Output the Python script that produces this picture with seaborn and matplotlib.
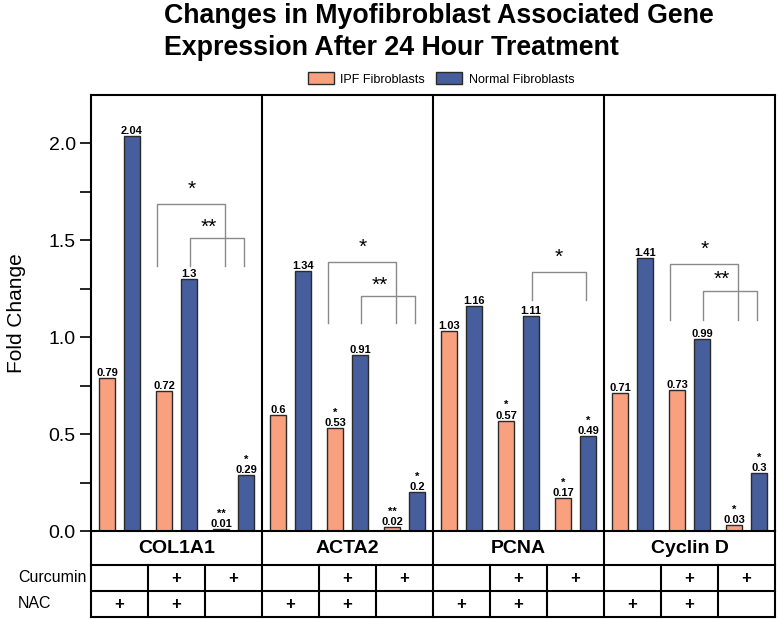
import numpy as np
import pandas as pd
import matplotlib
matplotlib.use("Agg")
import matplotlib.pyplot as plt
import seaborn as sns

# ---------------- data ----------------
genes = ["COL1A1", "ACTA2", "PCNA", "Cyclin D"]
cell_types = ["IPF Fibroblasts", "Normal Fibroblasts"]
ipf_values = [0.79, 0.72, 0.01, 0.60, 0.53, 0.02, 1.03, 0.57, 0.17, 0.71, 0.73, 0.03]
normal_values = [2.04, 1.30, 0.29, 1.34, 0.91, 0.20, 1.16, 1.11, 0.49, 1.41, 0.99, 0.30]
ipf_stars = ["", "", "**", "", "*", "**", "", "*", "*", "", "", "*"]
normal_stars = ["", "", "*", "", "", "*", "", "", "*", "", "", "*"]
curcumin = ["", "+", "+"]
nac = ["+", "+", ""]
y_major = [0.0, 0.5, 1.0, 1.5, 2.0]
y_minor = [0.25, 0.75, 1.25, 1.75]

# significance brackets (gene index, cell type index, label, top, bottom)
br_gene = [0, 0, 1, 1, 2, 3, 3]
br_cell = [0, 1, 0, 1, 1, 0, 1]
br_label = ["*", "**", "*", "**", "*", "*", "**"]
br_top = [1.687, 1.512, 1.390, 1.213, 1.338, 1.378, 1.240]
br_bottom = [1.369, 1.369, 1.072, 1.072, 1.192, 1.089, 1.089]

title = "Changes in Myofibroblast Associated Gene\nExpression After 24 Hour Treatment"
colors = ["#F9A07F", "#465E9B"]

# ---------------- figure ----------------
plt.rcParams["font.family"] = ["Liberation Sans", "DejaVu Sans"]
W, H = 778, 619
fig = plt.figure(figsize=(W / 100, H / 100), dpi=100)

ax_l, ax_r, ax_t, ax_b = 91, 775, 95, 531
ax = fig.add_axes([ax_l / W, 1 - ax_b / H, (ax_r - ax_l) / W, (ax_b - ax_t) / H])

pos_labels = [f"{g}-{t}" for g in genes for t in range(3)]
df = pd.DataFrame({
    "pos": pos_labels * 2,
    "cell": np.repeat(cell_types, len(pos_labels)),
    "value": ipf_values + normal_values,
})

sns.barplot(data=df, x="pos", y="value", hue="cell", order=pos_labels,
            hue_order=cell_types, palette=colors, saturation=1,
            width=0.88, gap=0.36, edgecolor="#2a2a2a", linewidth=1.0,
            errorbar=None, ax=ax)

ax.set_xlim(-0.5, len(pos_labels) - 0.5)
ax.set_ylim(0, 2.25)
ax.set_xticks([])
ax.set_xlabel("")
ax.set_yticks(y_major)
ax.set_yticklabels([f"{v:.1f}" for v in y_major])
ax.set_yticks(y_minor, minor=True)
ax.tick_params(axis="y", which="both", direction="out", length=8, width=1.2,
               labelsize=14, pad=3)
ax.set_ylabel("Fold Change", fontsize=15)
ax.yaxis.set_label_coords(-0.095, 0.5)
for s in ax.spines.values():
    s.set_linewidth(1.5)
    s.set_color("black")
for xb in [2.5, 5.5, 8.5]:
    ax.axvline(xb, color="black", lw=1.5)

# value labels (with significance stars stacked above)
star_lists = [ipf_stars, normal_stars]
val_lists = [ipf_values, normal_values]
for ci, cont in enumerate(ax.containers):
    labs = [(f"{st}\n" if st else "") + f"{v:g}"
            for st, v in zip(star_lists[ci], val_lists[ci])]
    ax.bar_label(cont, labels=labs, padding=0, fontsize=8, fontweight="bold",
                 linespacing=1.05)

# brackets
px = 1.0 / 57.0
for g, c, lab, top, bot in zip(br_gene, br_cell, br_label, br_top, br_bottom):
    cont = ax.containers[c]
    b1 = cont[3 * g + 1]
    b2 = cont[3 * g + 2]
    c1 = b1.get_x() + b1.get_width() / 2
    c2 = b2.get_x() + b2.get_width() / 2
    if c == 0:
        xl, xr = c1 - 7 * px, c2 + 4.5 * px
    else:
        xl, xr = c1 + 1 * px, c2 - 2 * px
    ax.plot([xl, xl, xr, xr], [bot, top, top, bot], color="#8a8a8a", lw=1.0)
    if lab == "**":
        xm, off = (xl + xr) / 2 - 8 * px, 4.0
    else:
        xm, off = (xl + xr) / 2, 6.5
    ax.annotate(lab, xy=(xm, top), xytext=(0, off), textcoords="offset points",
                ha="center", va="baseline", fontsize=15)

# legend
sns.move_legend(ax, loc="center", bbox_to_anchor=((441 - ax_l) / (ax_r - ax_l),
                                                   (ax_b - 79) / (ax_b - ax_t)),
                ncol=2, frameon=False, title=None, fontsize=9,
                handlelength=2.1, handleheight=1.05, handletextpad=0.5,
                columnspacing=0.9)

# ---------------- treatment table ----------------
tb_top, tb_bot = 531, 617
tax = fig.add_axes([ax_l / W, 1 - tb_bot / H, (ax_r - ax_l) / W, (tb_bot - tb_top) / H])
tax.set_xlim(-0.5, len(pos_labels) - 0.5)
tax.set_ylim(tb_bot - tb_top, 0)
tax.axis("off")
row1, row2, row3 = 34, 60, 86
lk = dict(color="black", lw=1.5, clip_on=False, solid_capstyle="projecting")
for yy in [row1, row2, row3]:
    tax.plot([-0.5, len(pos_labels) - 0.5], [yy, yy], **lk)
for xx in [-0.5, 2.5, 5.5, 8.5, len(pos_labels) - 0.5]:
    tax.plot([xx, xx], [0, row3], **lk)
for gi in range(len(genes)):
    for xx in [3 * gi + 0.5, 3 * gi + 1.5]:
        tax.plot([xx, xx], [row1, row3], **lk)
for gi, g in enumerate(genes):
    tax.text(3 * gi + 1, row1 / 2 + 0.5, g, ha="center", va="center",
             fontsize=14, fontweight="bold")
    for ti in range(3):
        if curcumin[ti]:
            tax.text(3 * gi + ti, (row1 + row2) / 2, curcumin[ti], ha="center",
                     va="center", fontsize=12, fontweight="bold")
        if nac[ti]:
            tax.text(3 * gi + ti, (row2 + row3) / 2, nac[ti], ha="center",
                     va="center", fontsize=12, fontweight="bold")

fig.text(18 / W, 1 - 578 / H, "Curcumin", ha="left", va="center", fontsize=11.5)
fig.text(18 / W, 1 - 604 / H, "NAC", ha="left", va="center", fontsize=11.5)

fig.text(164 / W, 1 - 3 / H, title, ha="left", va="top", fontsize=19.3,
         fontweight="bold", linespacing=1.32)

fig.savefig("out.png", dpi=100)
